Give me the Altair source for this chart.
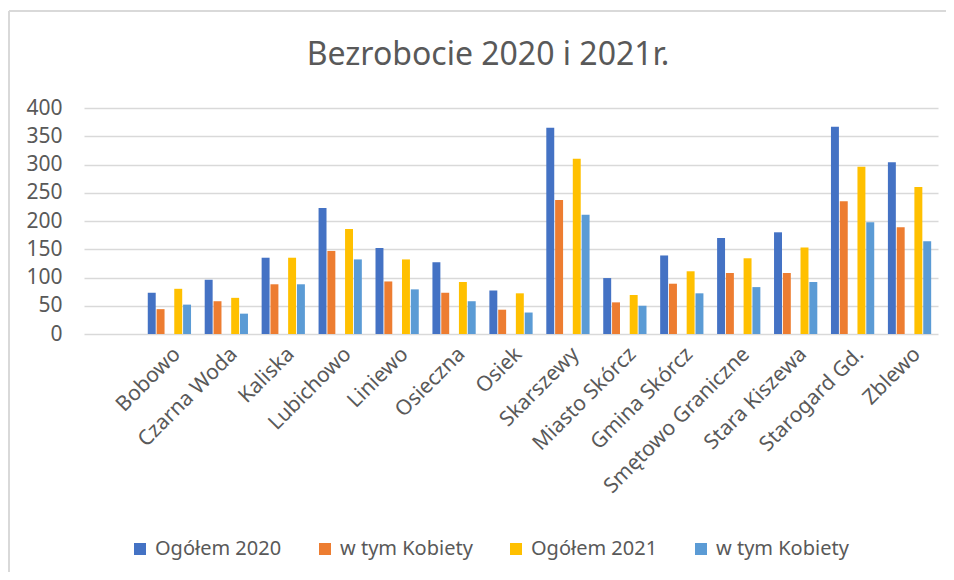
import altair as alt
import pandas as pd

gminy = ["Bobowo", "Czarna Woda", "Kaliska", "Lubichowo", "Liniewo", "Osieczna", "Osiek",
         "Skarszewy", "Miasto Skórcz", "Gmina Skórcz", "Smętowo Graniczne", "Stara Kiszewa",
         "Starogard Gd.", "Zblewo"]
ogolem_2020 = [73, 96, 135, 223, 152, 127, 77, 365, 99, 139, 170, 180, 367, 304]
kobiety_2020 = [44, 58, 88, 147, 93, 73, 43, 237, 56, 89, 108, 108, 235, 189]
ogolem_2021 = [80, 64, 135, 186, 132, 92, 72, 310, 69, 111, 134, 153, 296, 260]
kobiety_2021 = [52, 36, 88, 132, 79, 58, 38, 211, 50, 72, 83, 92, 198, 164]

series = ["Ogółem 2020", "w tym Kobiety 2020", "Ogółem 2021", "w tym Kobiety 2021"]
colors = ["#4472C4", "#ED7D31", "#FFC000", "#5B9BD5"]
offset_domain = ["Ogółem 2020", "w tym Kobiety 2020", "_gap", "Ogółem 2021", "w tym Kobiety 2021"]
x_domain = [" "] + gminy
title_text = "Bezrobocie 2020 i 2021r."

rows = []
for s, vals in zip(series, [ogolem_2020, kobiety_2020, ogolem_2021, kobiety_2021]):
    for g, v in zip(gminy, vals):
        rows.append({"gmina": g, "seria": s, "wartosc": v})
df = pd.DataFrame(rows)

FONT = "Noto Sans"
TXT = "#595959"
GRID = "#D9D9D9"

bars = alt.Chart(df).mark_bar().encode(
    x=alt.X("gmina:N", sort=x_domain,
            scale=alt.Scale(domain=x_domain, paddingInner=0.24, paddingOuter=0.12),
            axis=alt.Axis(title=None, labelAngle=-45, labelFontSize=21, labelColor=TXT,
                          labelFont=FONT, domain=False, ticks=False, labelPadding=9,
                          labelLimit=0)),
    xOffset=alt.XOffset("seria:N", scale=alt.Scale(domain=offset_domain, paddingInner=0.1, paddingOuter=0)),
    y=alt.Y("wartosc:Q", scale=alt.Scale(domain=[0, 400]),
            axis=alt.Axis(title=None, values=list(range(0, 401, 50)), labelFontSize=21,
                          labelColor=TXT, labelFont=FONT, domain=False, ticks=False,
                          grid=True, gridColor=GRID, gridWidth=1.5, labelPadding=22)),
    color=alt.Color("seria:N", scale=alt.Scale(domain=series, range=colors),
                    legend=alt.Legend(title=None, orient="none", legendX=46, legendY=431,
                                      direction="horizontal", symbolType="square",
                                      symbolSize=144, symbolStrokeWidth=0,
                                      labelFontSize=20, labelColor=TXT, labelFont=FONT,
                                      labelOffset=5, columnPadding=33,
                                      labelExpr="indexof(datum.label, 'Kobiety') >= 0 ? 'w tym Kobiety' : datum.label")),
)

frame_left = alt.Chart(df).mark_rule(color=GRID, strokeWidth=2).encode(
    x=alt.value(-75), y=alt.value(-97), y2=alt.value(480))
frame_top = alt.Chart(df).mark_rule(color=GRID, strokeWidth=2).encode(
    x=alt.value(-75), x2=alt.value(880), y=alt.value(-97))

title = alt.Chart(pd.DataFrame({"t": [title_text]})).mark_text(
    font=FONT, fontSize=32, color=TXT, align="center", baseline="alphabetic"
).encode(text="t:N", x=alt.value(404), y=alt.value(-43))

chart = alt.layer(frame_left, frame_top, title, bars).properties(
    width=854, height=226,
    autosize=alt.AutoSizeParams(type="none"),
    padding={"left": 76, "top": 100, "right": 8, "bottom": 238},
).configure_view(stroke=None)

chart.save("out.html", embed_options={"renderer": "svg", "actions": False})
